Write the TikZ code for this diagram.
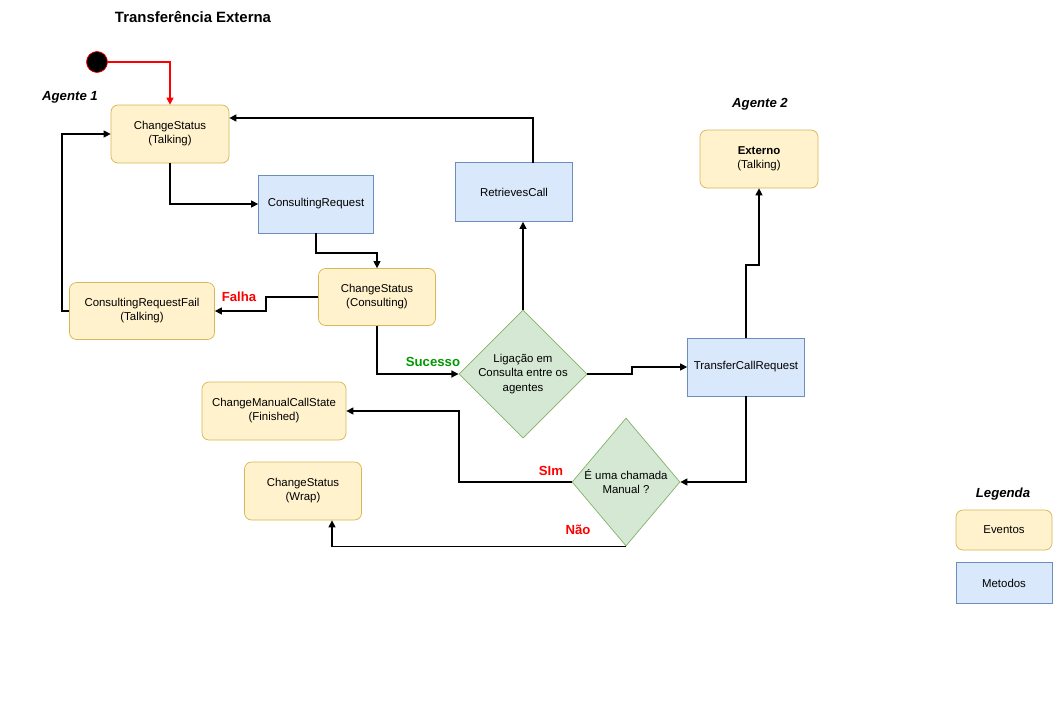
\documentclass[tikz,border=0pt]{standalone}
\usepackage{fontspec}
\setmainfont{Liberation Sans}
\usetikzlibrary{shapes.geometric,arrows.meta}
\definecolor{evf}{HTML}{FFF2CC}\definecolor{evd}{HTML}{D6B656}
\definecolor{mef}{HTML}{DAE8FC}\definecolor{med}{HTML}{6C8EBF}
\definecolor{dif}{HTML}{D5E8D4}\definecolor{did}{HTML}{82B366}
\begin{document}
\begin{tikzpicture}[x=0.02cm,y=-0.02cm,
 ev/.style={draw=evd,fill=evf,rounded corners=4pt,align=center,font=\fontsize{6.5}{8}\selectfont,inner sep=0pt},
 me/.style={draw=med,fill=mef,align=center,font=\fontsize{6.5}{8}\selectfont,inner sep=0pt},
 di/.style={draw=did,fill=dif,diamond,align=center,font=\fontsize{6.5}{8}\selectfont,inner sep=0pt},
 ar/.style={-{Triangle[length=4pt,width=4pt]},line width=0.6pt},
 lb/.style={font=\bfseries\fontsize{7.5}{9}\selectfont}]
\useasboundingbox (0,0) rectangle (1060,706);
\node[font=\bfseries\fontsize{8.5}{10}\selectfont] (title) at (193,17) {Transferência Externa};
\node[font=\bfseries\itshape\fontsize{7.5}{9}\selectfont] (a1) at (70,97) {Agente 1};
\node[font=\bfseries\itshape\fontsize{7.5}{9}\selectfont] (a2) at (760,104) {Agente 2};
\node[font=\bfseries\itshape\fontsize{7.5}{9}\selectfont] (lg) at (1003,494) {Legenda};
\node[circle,fill=black,draw=red,minimum size=0.42cm,inner sep=0pt] (st) at (97,62) {};
\node[ev,minimum width=118*0.02cm,minimum height=58*0.02cm] (tk) at (170,134) {ChangeStatus\\(Talking)};
\node[me,minimum width=115*0.02cm,minimum height=58*0.02cm] (cr) at (316,204) {ConsultingRequest};
\node[ev,minimum width=117*0.02cm,minimum height=57*0.02cm] (cs) at (377,297) {ChangeStatus\\(Consulting)};
\node[ev,minimum width=145*0.02cm,minimum height=57*0.02cm] (cf) at (142,311) {ConsultingRequestFail\\(Talking)};
\node[me,minimum width=117*0.02cm,minimum height=59*0.02cm] (rc) at (514,192) {RetrievesCall};
\node[di,minimum width=108*0.02cm,minimum height=127*0.02cm] (d1) at (523,374) {Ligação em\\Consulta entre os\\agentes};
\node[me,minimum width=117*0.02cm,minimum height=58*0.02cm] (tc) at (746,367) {TransferCallRequest};
\node[ev,minimum width=118*0.02cm,minimum height=58*0.02cm] (ex) at (759,159) {\textbf{Externo}\\(Talking)};
\node[di,minimum width=108*0.02cm,minimum height=128*0.02cm] (d2) at (626,482) {É uma chamada\\Manual ?};
\node[ev,minimum width=144*0.02cm,minimum height=58*0.02cm] (mc) at (274,411) {ChangeManualCallState\\(Finished)};
\node[ev,minimum width=117*0.02cm,minimum height=58*0.02cm] (wr) at (303,491) {ChangeStatus\\(Wrap)};
\node[ev,minimum width=96*0.02cm,minimum height=40*0.02cm] (le) at (1004,530) {Eventos};
\node[me,minimum width=96*0.02cm,minimum height=41*0.02cm] (lm) at (1004,583) {Metodos};
\draw[ar,red] (st.east) -| (tk.north);
\draw[ar] (tk.south) |- (cr.west);
\draw[ar] (cr.south) |- (377,253) -- (cs.north);
\draw[ar] (cs.west) -- (266,297) |- (cf.east);
\node[lb,red] (fl) at (239,297) {Falha};
\draw[ar] (cf.west) -- (62,311) |- (tk.west);
\draw[ar] (cs.south) |- (d1.west);
\node[lb,green!60!black] (sc) at (433,362) {Sucesso};
\draw[ar] (d1.north) -- (rc.south -| d1.north);
\draw[ar] (533,163) |- (tk.east |- 0,118);
\draw[ar] (d1.east) -- (632,374) |- (tc.west);
\draw[ar] (tc.north) |- (759,265) -- (ex.south);
\draw[ar] (tc.south) |- (d2.east);
\draw[ar] (d2.west) -- (459,482) |- (mc.east);
\node[lb,red] (si) at (551,471) {SIm};
\draw[ar] (d2.south) -| (wr.south -| 332,0);
\node[lb,red] (na) at (578,530) {Não};
\end{tikzpicture}
\end{document}
